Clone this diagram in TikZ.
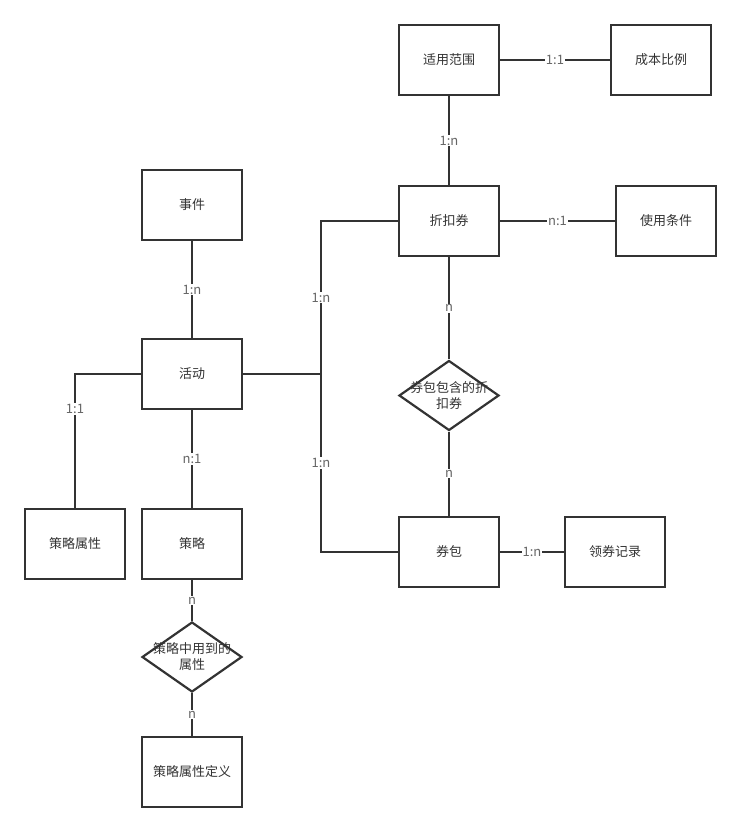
\documentclass[tikz,border=0pt]{standalone}
\usepackage{fontspec}
\setmainfont{Noto Sans CJK SC}
\usetikzlibrary{shapes.geometric}
\definecolor{linea}{HTML}{333333}
\definecolor{rotulo}{HTML}{666666}
\tikzset{
  entidad/.style={draw=linea, line width=2.2pt, fill=white, minimum width=100pt, minimum height=70pt,
    text=linea, font=\fontsize{13}{16}\selectfont},
  relacion/.style={draw=linea, line width=2.2pt, fill=white, shape=diamond, minimum width=100pt,
    minimum height=70pt, inner sep=0pt},
  card/.style={fill=white, text=rotulo, inner sep=1pt, font=\fontsize{13}{15}\selectfont},
}
\begin{document}
\begin{tikzpicture}[x=1pt, y=-1pt, line width=2.2pt]
  \useasboundingbox (0,0) rectangle (741,832);
  % 实体
  \node[entidad] (fw) at (449,60) {适用范围};
  \node[entidad] (cb) at (661,60) {成本比例};
  \node[entidad] (zk) at (449,221) {折扣券};
  \node[entidad] (sy) at (666,221) {使用条件};
  \node[entidad] (sj) at (192,205) {事件};
  \node[entidad] (hd) at (192,374) {活动};
  \node[entidad] (sx) at (75,544) {策略属性};
  \node[entidad] (cl) at (192,544) {策略};
  \node[entidad] (qb) at (449,552) {券包};
  \node[entidad] (lq) at (615,552) {领券记录};
  \node[entidad] (dy) at (192,772) {策略属性定义};
  % 关系
  \node[relacion, label={[align=center, text=linea, font=\fontsize{13}{16}\selectfont]center:券包包含的折\\扣券}] (bh) at (449,395.5) {};
  \node[relacion, label={[align=center, text=linea, font=\fontsize{13}{16}\selectfont]center:策略中用到的\\属性}] (yd) at (192,657) {};
  \coordinate (eje) at (321,374);
  % 连线
  \draw[draw=linea] (fw) -- node[card] {1:1} (cb);
  \draw[draw=linea] (fw) -- node[card] {1:n} (zk);
  \draw[draw=linea] (zk) -- node[card] {n:1} (sy);
  \draw[draw=linea] (zk) -- node[card] {n} (bh);
  \draw[draw=linea] (bh) -- node[card] {n} (qb);
  \draw[draw=linea] (qb) -- node[card] {1:n} (lq);
  \draw[draw=linea] (sj) -- node[card] {1:n} (hd);
  \draw[draw=linea] (hd) -- node[card] {n:1} (cl);
  \draw[draw=linea] (hd) -| node[card, pos=0.63] {1:1} (sx);
  \draw[draw=linea] (cl) -- node[card] {n} (yd);
  \draw[draw=linea] (yd) -- node[card] {n} (dy);
  \draw[draw=linea] (hd) -- (eje);
  \draw[draw=linea] (eje) |- node[card, pos=0.25] {1:n} (zk);
  \draw[draw=linea] (eje) |- node[card, pos=0.25] {1:n} (qb);
\end{tikzpicture}
\end{document}
